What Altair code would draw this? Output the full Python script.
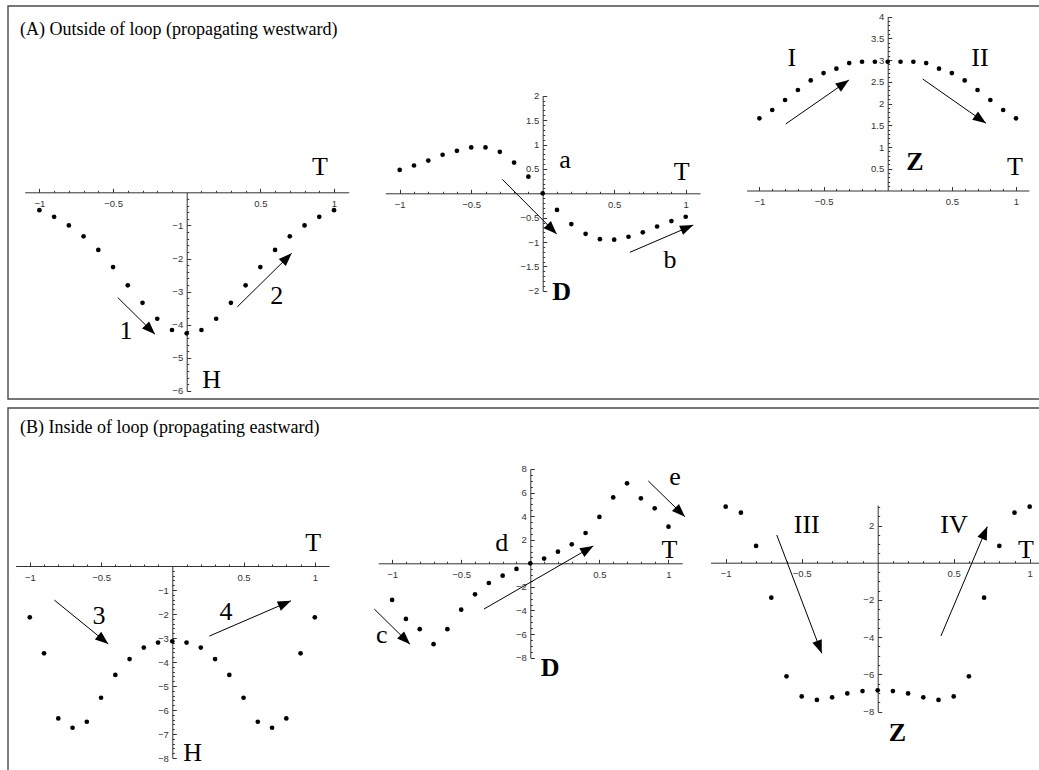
import math
import altair as alt
import pandas as pd

# ---------------- data ----------------
T_VALUES = [-1.0, -0.9, -0.8, -0.7, -0.6, -0.5, -0.4, -0.3, -0.2, -0.1, 0.0,
            0.1, 0.2, 0.3, 0.4, 0.5, 0.6, 0.7, 0.8, 0.9, 1.0]

H_OUT = [-0.54, -0.74, -1.00, -1.33, -1.74, -2.26, -2.81, -3.34, -3.82, -4.16, -4.26,
         -4.16, -3.82, -3.34, -2.81, -2.26, -1.74, -1.33, -1.00, -0.74, -0.54]
D_OUT = [0.48, 0.57, 0.67, 0.79, 0.87, 0.94, 0.94, 0.85, 0.63, 0.34, 0.0,
         -0.34, -0.63, -0.83, -0.94, -0.95, -0.89, -0.80, -0.68, -0.57, -0.48]
Z_OUT = [1.66, 1.85, 2.08, 2.31, 2.53, 2.70, 2.80, 2.93, 2.96, 2.96, 2.96,
         2.96, 2.96, 2.93, 2.80, 2.70, 2.53, 2.31, 2.08, 1.85, 1.66]
H_IN = [-2.14, -3.64, -6.35, -6.74, -6.49, -5.49, -4.54, -3.88, -3.40, -3.19, -3.14,
        -3.19, -3.40, -3.88, -4.54, -5.49, -6.49, -6.74, -6.35, -3.64, -2.14]
D_IN = [-3.11, -4.72, -5.59, -6.86, -5.59, -3.93, -2.63, -1.67, -1.05, -0.48, 0.0,
        0.40, 0.99, 1.61, 2.57, 3.93, 5.59, 6.78, 5.51, 4.66, 3.11]
Z_IN = [3.01, 2.69, 0.90, -1.88, -6.11, -7.19, -7.38, -7.24, -7.03, -6.90, -6.86,
        -6.90, -7.03, -7.24, -7.38, -7.19, -6.11, -1.88, 0.90, 2.69, 3.01]

# annotation labels (panel data coordinates)
A1_TEXT = ["T", "H", "1", "2"]
A1_TX = [0.905, 0.170, -0.412, 0.611]
A1_TY = [0.773, -5.67, -4.19, -3.12]
A1_BOLD = [False, False, False, False]
A1_AX1 = [-0.468, 0.344]
A1_AY1 = [-3.18, -3.46]
A1_AX2 = [-0.215, 0.713]
A1_AY2 = [-4.29, -1.84]

A2_TEXT = ["a", "T", "b", "D"]
A2_TX = [0.156, 0.972, 0.890, 0.133]
A2_TY = [0.682, 0.443, -1.367, -2.016]
A2_BOLD = [False, False, False, True]
A2_AX1 = [-0.283, 0.610]
A2_AY1 = [0.287, -1.209]
A2_AX2 = [0.098, 1.053]
A2_AY2 = [-0.834, -0.650]

A3_TEXT = ["I", "II", "Z", "T"]
A3_TX = [-0.748, 0.719, 0.213, 0.992]
A3_TY = [3.04, 3.04, 0.662, 0.547]
A3_BOLD = [False, False, True, False]
A3_AX1 = [-0.795, 0.273]
A3_AY1 = [1.529, 2.563]
A3_AX2 = [-0.302, 0.766]
A3_AY2 = [2.540, 1.545]

B1_TEXT = ["T", "H", "3", "4"]
B1_TX = [0.989, 0.143, -0.514, 0.377]
B1_TY = [0.97, -7.78, -2.08, -1.90]
B1_BOLD = [False, False, False, False]
B1_AX1 = [-0.828, 0.260]
B1_AY1 = [-1.42, -2.92]
B1_AX2 = [-0.449, 0.833]
B1_AY2 = [-3.25, -1.45]

B2_TEXT = ["d", "T", "e", "c", "D"]
B2_TX = [-0.207, 1.006, 1.047, -1.075, 0.143]
B2_TY = [1.70, 1.13, 7.35, -6.08, -8.91]
B2_BOLD = [False, False, False, False, True]
B2_AX1 = [-1.129, -0.335, 0.854]
B2_AY1 = [-3.88, -3.88, 6.98]
B2_AX2 = [-0.870, 0.456, 1.119]
B2_AY2 = [-6.87, 1.47, 3.95]

B3_TEXT = ["III", "IV", "T", "Z"]
B3_TX = [-0.467, 0.502, 0.976, 0.129]
B3_TY = [2.03, 2.03, 0.68, -9.17]
B3_BOLD = [False, False, False, True]
B3_AX1 = [-0.664, 0.416]
B3_AY1 = [1.49, -3.94]
B3_AX2 = [-0.368, 0.721]
B3_AY2 = [-4.87, 1.94]

TITLE_A = "(A) Outside of loop (propagating westward)"
TITLE_B = "(B) Inside of loop (propagating eastward)"

# ---------------- layout / style ----------------
W, H = 1039, 770
SERIF = "Liberation Serif"
SANS = "Liberation Sans"
AXC = "#333333"
LABEL_EXPR = "replace(format(datum.value, '~g'), '-', '\u2212')"

XMAJ = [-1.0, -0.5, 0.5, 1.0]
XMIN = [round(i * 0.1, 1) for i in range(-10, 11) if i != 0 and i % 5 != 0]


def steps(lo, hi, step, skip_major=None):
    out = []
    n = int(round((hi - lo) / step))
    for i in range(n + 1):
        v = round(lo + i * step, 3)
        if abs(v) < 1e-9:
            continue
        if skip_major and abs(v / skip_major - round(v / skip_major)) < 1e-6:
            continue
        out.append(v)
    return out


PANELS = [
    dict(x0=186.7, ux=147.3, y0=192.3, uy=33.1, ydom=[-6, 0], ymaj=1, ymin=0.2,
         vals=H_OUT, text=A1_TEXT, tx=A1_TX, ty=A1_TY, bold=A1_BOLD,
         ax1=A1_AX1, ay1=A1_AY1, ax2=A1_AX2, ay2=A1_AY2),
    dict(x0=542.7, ux=143.0, y0=193.3, uy=48.8, ydom=[-2, 2], ymaj=0.5, ymin=0.1,
         vals=D_OUT, text=A2_TEXT, tx=A2_TX, ty=A2_TY, bold=A2_BOLD,
         ax1=A2_AX1, ay1=A2_AY1, ax2=A2_AX2, ay2=A2_AY2),
    dict(x0=887.7, ux=128.3, y0=190.5, uy=43.5, ydom=[0, 4], ymaj=0.5, ymin=0.1,
         vals=Z_OUT, text=A3_TEXT, tx=A3_TX, ty=A3_TY, bold=A3_BOLD,
         ax1=A3_AX1, ay1=A3_AY1, ax2=A3_AX2, ay2=A3_AY2),
    dict(x0=172.3, ux=142.5, y0=566.0, uy=24.0, ydom=[-8, 0], ymaj=1, ymin=0.2,
         vals=H_IN, text=B1_TEXT, tx=B1_TX, ty=B1_TY, bold=B1_BOLD,
         ax1=B1_AX1, ay1=B1_AY1, ax2=B1_AX2, ay2=B1_AY2),
    dict(x0=530.3, ux=138.2, y0=563.3, uy=11.79, ydom=[-8, 8], ymaj=2, ymin=0.5,
         vals=D_IN, text=B2_TEXT, tx=B2_TX, ty=B2_TY, bold=B2_BOLD,
         ax1=B2_AX1, ay1=B2_AY1, ax2=B2_AX2, ay2=B2_AY2),
    dict(x0=877.7, ux=152.0, y0=562.7, uy=18.6, ydom=[-8, 3.1], ymaj=2, ymin=0.5,
         vals=Z_IN, text=B3_TEXT, tx=B3_TX, ty=B3_TY, bold=B3_BOLD,
         ax1=B3_AX1, ay1=B3_AY1, ax2=B3_AX2, ay2=B3_AY2),
]

HEAD = "M0,0L-0.38,1L0.38,1Z"


def panel_layers(p):
    xs = alt.Scale(domain=[-1.1, 1.1],
                   range=[p["x0"] - 1.1 * p["ux"], p["x0"] + 1.1 * p["ux"]],
                   nice=False, zero=False)
    lo, hi = p["ydom"]
    ys = alt.Scale(domain=[lo, hi],
                   range=[p["y0"] - lo * p["uy"], p["y0"] - hi * p["uy"]],
                   nice=False, zero=False)
    ymaj = steps(math.ceil(lo / p["ymaj"]) * p["ymaj"], math.floor(hi / p["ymaj"]) * p["ymaj"], p["ymaj"])
    ymin = steps(math.ceil(lo / p["ymin"] - 1e-9) * p["ymin"], math.floor(hi / p["ymin"] + 1e-9) * p["ymin"],
                 p["ymin"], skip_major=p["ymaj"])

    x_major = alt.Axis(orient="top", offset=-p["y0"], values=XMAJ, tickSize=4,
                       labelExpr=LABEL_EXPR, labelPadding=-15, labelBaseline="middle",
                       labelAlign="center", labelFont=SANS, labelFontSize=9.5,
                       labelColor=AXC, domainColor=AXC, tickColor=AXC, domainWidth=1,
                       tickWidth=1, grid=False, title=None, labelOverlap=False,
                       labelFlush=False)
    y_major = alt.Axis(orient="right", offset=p["x0"] - W, values=ymaj, tickSize=4,
                       labelExpr=LABEL_EXPR, labelPadding=-8, labelBaseline="middle",
                       labelAlign="right", labelFont=SANS, labelFontSize=9.5,
                       labelColor=AXC, domainColor=AXC, tickColor=AXC, domainWidth=1,
                       tickWidth=1, grid=False, title=None, labelOverlap=False,
                       labelFlush=False)
    x_minor = alt.Axis(orient="top", offset=-p["y0"], values=XMIN, tickSize=2,
                       labels=False, domain=False, grid=False, title=None,
                       tickColor=AXC, tickWidth=1)
    y_minor = alt.Axis(orient="right", offset=p["x0"] - W, values=ymin, tickSize=2,
                       labels=False, domain=False, grid=False, title=None,
                       tickColor=AXC, tickWidth=1)

    df = pd.DataFrame({"t": T_VALUES, "v": p["vals"]})
    pts = alt.Chart(df).mark_circle(size=22, color="black", opacity=1).encode(
        x=alt.X("t:Q", scale=xs, axis=x_major),
        y=alt.Y("v:Q", scale=ys, axis=y_major),
    )
    minor = alt.Chart(df).mark_circle(size=1, opacity=0).encode(
        x=alt.X("t:Q", scale=xs, axis=x_minor),
        y=alt.Y("v:Q", scale=ys, axis=y_minor),
    )

    adf = pd.DataFrame({"x1": p["ax1"], "y1": p["ay1"], "x2": p["ax2"], "y2": p["ay2"]})
    # arrowhead rotation in screen space (clockwise from up)
    adf["ang"] = [
        math.degrees(math.atan2((x2 - x1) * p["ux"], (y2 - y1) * p["uy"])) % 360
        for x1, y1, x2, y2 in zip(adf.x1, adf.y1, adf.x2, adf.y2)
    ]
    shafts = alt.Chart(adf).mark_rule(color="black", strokeWidth=1).encode(
        x=alt.X("x1:Q", scale=xs, axis=None),
        y=alt.Y("y1:Q", scale=ys, axis=None),
        x2="x2:Q", y2="y2:Q",
    )
    heads = alt.Chart(adf).mark_point(shape=HEAD, filled=True, size=700,
                                      color="black", opacity=1, strokeWidth=0).encode(
        x=alt.X("x2:Q", scale=xs, axis=None),
        y=alt.Y("y2:Q", scale=ys, axis=None),
        angle=alt.Angle("ang:Q", scale=None),
    )

    ldf = pd.DataFrame({"label": p["text"], "x": p["tx"], "y": p["ty"], "bold": p["bold"]})
    reg = alt.Chart(ldf).transform_filter("!datum.bold").mark_text(
        font=SERIF, fontSize=26, color="black", align="center", baseline="middle").encode(
        x=alt.X("x:Q", scale=xs, axis=None),
        y=alt.Y("y:Q", scale=ys, axis=None),
        text="label:N",
    )
    bold = alt.Chart(ldf).transform_filter("datum.bold").mark_text(
        font=SERIF, fontSize=26, fontWeight="bold", color="black", align="center",
        baseline="middle").encode(
        x=alt.X("x:Q", scale=xs, axis=None),
        y=alt.Y("y:Q", scale=ys, axis=None),
        text="label:N",
    )
    return [minor, shafts, heads, pts, reg, bold]


one = pd.DataFrame({"k": [0]})
frame = [
    alt.Chart(one).mark_rect(fillOpacity=0, stroke="#4a4a4a", strokeWidth=1.4).encode(
        x=alt.value(8), x2=alt.value(1060), y=alt.value(6), y2=alt.value(399)),
    alt.Chart(one).mark_rect(fillOpacity=0, stroke="#4a4a4a", strokeWidth=1.4).encode(
        x=alt.value(8), x2=alt.value(1060), y=alt.value(408), y2=alt.value(790)),
    alt.Chart(one).mark_text(text=TITLE_A, font=SERIF, fontSize=18, align="left",
                             baseline="alphabetic", color="black").encode(
        x=alt.value(20), y=alt.value(35)),
    alt.Chart(one).mark_text(text=TITLE_B, font=SERIF, fontSize=18, align="left",
                             baseline="alphabetic", color="black").encode(
        x=alt.value(20), y=alt.value(433)),
]

layers = list(frame)
for p in PANELS:
    layers.extend(panel_layers(p))

chart = alt.layer(*layers).resolve_scale(
    x="independent", y="independent"
).properties(
    width=W, height=H, padding=0,
    autosize=alt.AutoSizeParams(type="none"),
    background="white",
).configure_view(strokeWidth=0)

chart.save("out.html", embed_options={"renderer": "svg", "actions": False})
